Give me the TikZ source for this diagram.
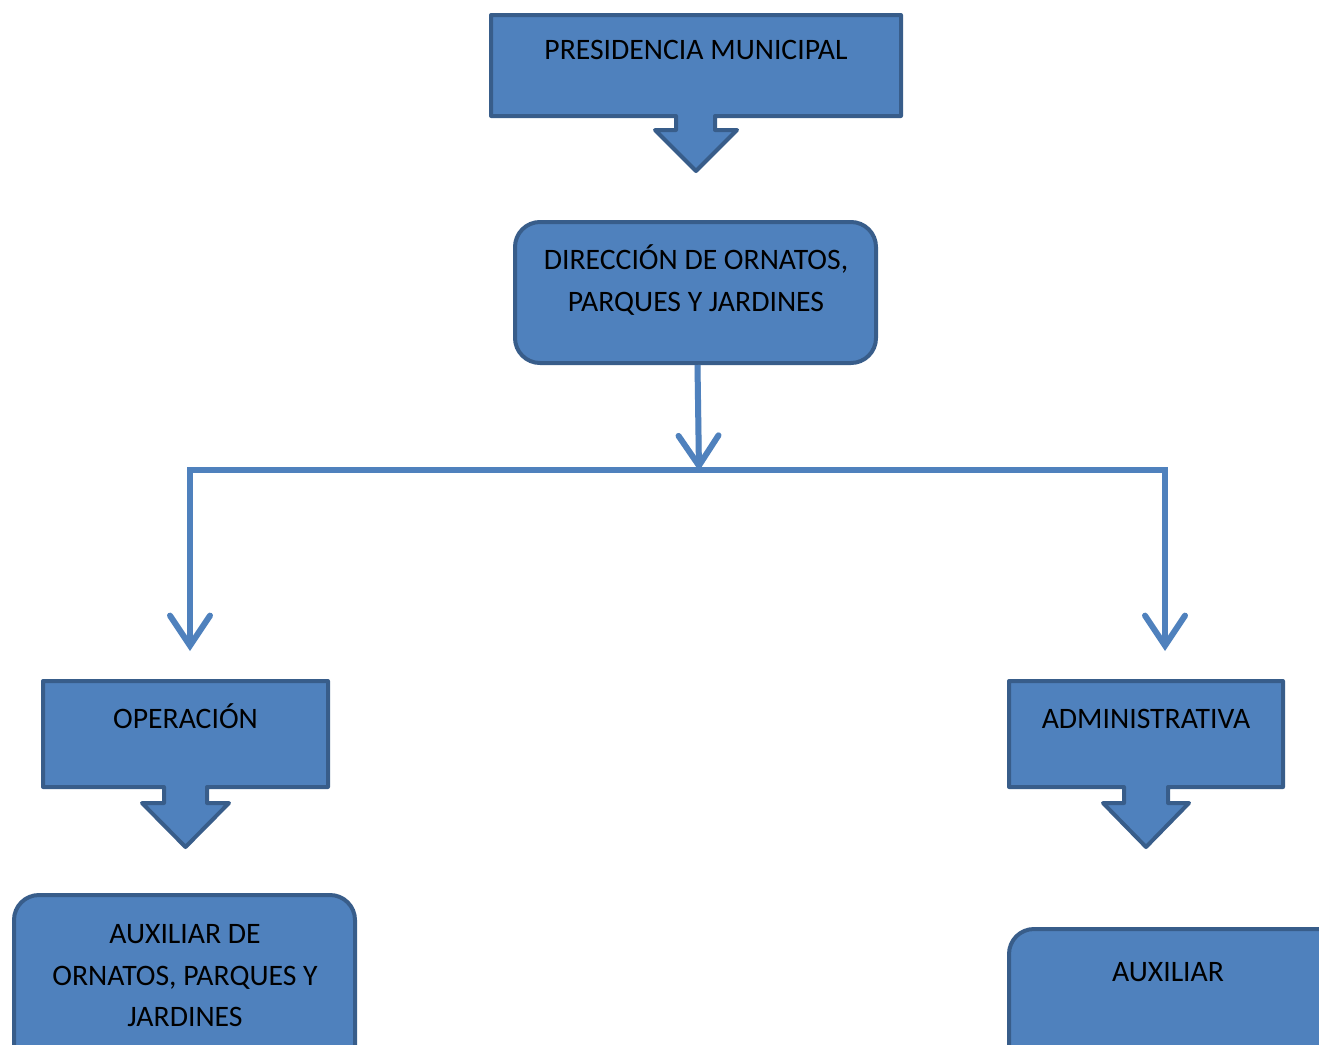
\documentclass[tikz,border=0pt]{standalone}
\usepackage{fontspec}
\setmainfont{Carlito}
\usetikzlibrary{arrows.meta}
\definecolor{boxfill}{HTML}{4F81BD}
\definecolor{boxline}{HTML}{385D8A}
\definecolor{connline}{HTML}{4F81BD}
\tikzset{
  calloutshape/.style={draw=boxline, fill=boxfill, line width=4pt, line join=round},
  roundbox/.style={draw=boxline, fill=boxfill, line width=4pt, rounded corners=25pt, rectangle, inner sep=0pt},
  label/.style={font=\fontsize{29.7}{41.5}\selectfont, text=black, align=center, inner sep=0pt},
  conn/.style={draw=connline, line width=6pt, line join=miter, -{Straight Barb[length=30pt,width=40pt,line cap=round]}},
  connplain/.style={draw=connline, line width=6pt, line join=miter},
  shadowline/.style={draw=black!35, line width=6pt, opacity=0.25, line cap=butt}
}
\begin{document}
\begin{tikzpicture}[x=1pt,y=-1pt]
\useasboundingbox (0,0) rectangle (1319,1044);
\clip (0,0) rectangle (1319,1044);

% callout: PRESIDENCIA MUNICIPAL
\path[calloutshape] (491,15) -- (901,15) -- (901,116) -- (715,116) -- (715,130) -- (737,130)
  -- (696,171) -- (655,130) -- (676,130) -- (676,116) -- (491,116) -- cycle;
\node[label] (pres) at (696,50) {PRESIDENCIA MUNICIPAL};

% rounded box: DIRECCION
\node[roundbox, minimum width=361pt, minimum height=141pt] (dirbox) at (695.5,292.5) {};
\node[label] (dir) at (696,280) {DIRECCIÓN DE ORNATOS,\\PARQUES Y JARDINES};

% callout: OPERACION
\path[calloutshape] (43,681) -- (328,681) -- (328,787) -- (207,787) -- (207,803) -- (229,803)
  -- (185.5,847) -- (142,803) -- (164,803) -- (164,787) -- (43,787) -- cycle;
\node[label] (op) at (185.5,716) {OPERACIÓN};

% callout: ADMINISTRATIVA
\path[calloutshape] (1009,681) -- (1283,681) -- (1283,787) -- (1168,787) -- (1168,803) -- (1189,803)
  -- (1146,847) -- (1103,803) -- (1124,803) -- (1124,787) -- (1009,787) -- cycle;
\node[label] (adm) at (1146,719) {ADMINISTRATIVA};

% bottom rounded boxes
\node[roundbox, minimum width=341pt, minimum height=190pt] (aux1box) at (184.5,990) {};
\node[label] (aux1) at (185,976) {AUXILIAR DE\\ORNATOS, PARQUES Y\\JARDINES};
\node[roundbox, minimum width=340pt, minimum height=160pt] (aux2box) at (1179,1009) {};
\node[label] (aux2) at (1168,972) {AUXILIAR};

% connector coordinates
\coordinate (jn) at (699,471);
\coordinate (L) at (190,470);
\coordinate (R) at (1165,470);
\coordinate (tipL) at (190,651);
\coordinate (tipR) at (1165,651);

% shadows (kept short of the tips)
\begin{scope}[shift={(2,3)}]
\draw[shadowline] ([xshift=2pt]dirbox.south) -- ([yshift=14pt]jn);
\draw[shadowline] ([yshift=16pt]tipL) -- (L) -- (R) -- ([yshift=16pt]tipR);
\end{scope}

% connectors
\draw[conn] ([xshift=2pt]dirbox.south) -- (jn);
\draw[connplain] (L) -- (R);
\draw[conn] ([yshift=3pt]L) -- (tipL);
\draw[conn] ([yshift=3pt]R) -- (tipR);
\end{tikzpicture}
\end{document}
